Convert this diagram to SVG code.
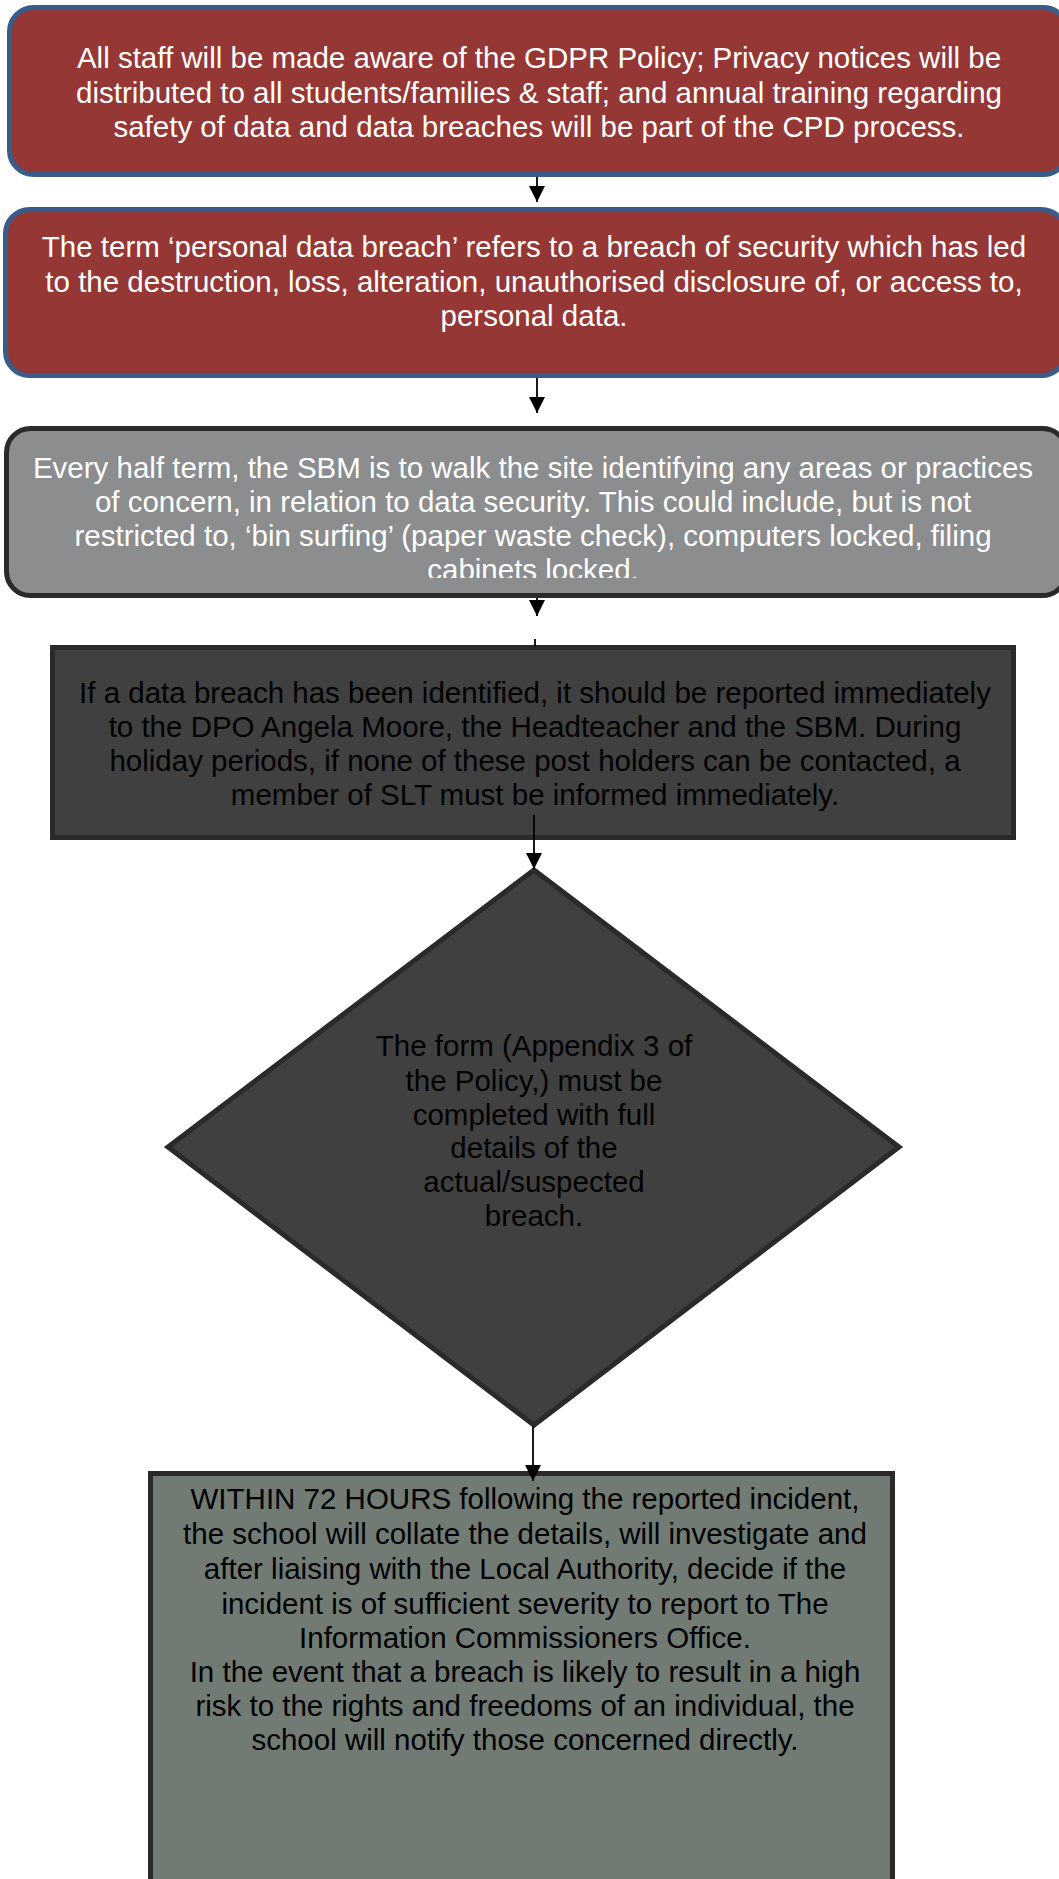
<svg xmlns="http://www.w3.org/2000/svg" width="1059" height="1879" viewBox="0 0 1059 1879">
<style>
text { font-family: "Liberation Sans", Arial, sans-serif; font-size: 29.5px; text-anchor: middle; }
.w { fill: #ffffff; }
.k { fill: #000000; }
.red { fill: #953735; stroke: #385d8a; stroke-width: 5; }
.grey { fill: #8b8d8e; stroke: #2a2a2a; stroke-width: 5; }
.dark { fill: #404040; stroke: #2a2a2a; stroke-width: 5; }
.sage { fill: #717b74; stroke: #2a2a2a; stroke-width: 5; }
.conn { stroke: #000000; stroke-width: 1.8; fill: none; }
</style>
<defs>
<marker id="arr" viewBox="0 0 16 16" refX="16" refY="8" markerWidth="16" markerHeight="16" markerUnits="userSpaceOnUse" orient="auto">
<path d="M0,0 L16,8 L0,16 Z" fill="#000000"/>
</marker>
<clipPath id="c3"><rect x="0" y="430" width="1059" height="148"/></clipPath>
</defs>
<rect width="1059" height="1879" fill="#ffffff"/>

<g id="node1">
<rect class="red" x="9.5" y="7.5" width="1058" height="167" rx="24"/>
<text class="w" x="539" y="68">All staff will be made aware of the GDPR Policy; Privacy notices will be</text>
<text class="w" x="539" y="103">distributed to all students/families &amp; staff; and annual training regarding</text>
<text class="w" x="539" y="137">safety of data and data breaches will be part of the CPD process.</text>
</g>

<g id="node2">
<rect class="red" x="5.5" y="209.5" width="1060" height="166" rx="24"/>
<text class="w" x="534" y="257">The term ‘personal data breach’ refers to a breach of security which has led</text>
<text class="w" x="534" y="292">to the destruction, loss, alteration, unauthorised disclosure of, or access to,</text>
<text class="w" x="534" y="326">personal data.</text>
</g>

<g id="node3">
<rect class="grey" x="6.5" y="428.5" width="1060" height="167" rx="24"/>
<g clip-path="url(#c3)">
<text class="w" x="533" y="478">Every half term, the SBM is to walk the site identifying any areas or practices</text>
<text class="w" x="533" y="512">of concern, in relation to data security. This could include, but is not</text>
<text class="w" x="533" y="546">restricted to, ‘bin surfing’ (paper waste check), computers locked, filing</text>
<text class="w" x="533" y="580">cabinets locked.</text>
</g>
</g>

<g id="node4">
<rect class="dark" x="52.5" y="647.5" width="961" height="190"/>
<text class="k" x="535" y="703">If a data breach has been identified, it should be reported immediately</text>
<text class="k" x="535" y="737">to the DPO Angela Moore, the Headteacher and the SBM. During</text>
<text class="k" x="535" y="771">holiday periods, if none of these post holders can be contacted, a</text>
<text class="k" x="535" y="805">member of SLT must be informed immediately.</text>
</g>

<g id="node5">
<polygon class="dark" points="534,870 899,1147 534,1425 168,1147"/>
<text class="k" x="534" y="1056">The form (Appendix 3 of</text>
<text class="k" x="534" y="1091">the Policy,) must be</text>
<text class="k" x="534" y="1125">completed with full</text>
<text class="k" x="534" y="1158">details of the</text>
<text class="k" x="534" y="1192">actual/suspected</text>
<text class="k" x="534" y="1226">breach.</text>
</g>

<g id="node6">
<rect class="sage" x="150.5" y="1473.5" width="742" height="430"/>
<text class="k" x="525" y="1509">WITHIN 72 HOURS following the reported incident,</text>
<text class="k" x="525" y="1544">the school will collate the details, will investigate and</text>
<text class="k" x="525" y="1579">after liaising with the Local Authority, decide if the</text>
<text class="k" x="525" y="1614">incident is of sufficient severity to report to The</text>
<text class="k" x="525" y="1648">Information Commissioners Office.</text>
<text class="k" x="525" y="1682">In the event that a breach is likely to result in a high</text>
<text class="k" x="525" y="1716">risk to the rights and freedoms of an individual, the</text>
<text class="k" x="525" y="1750">school will notify those concerned directly.</text>
</g>

<g id="connectors">
<line class="conn" x1="537" y1="177" x2="537" y2="202" marker-end="url(#arr)"/>
<line class="conn" x1="537" y1="378" x2="537" y2="413" marker-end="url(#arr)"/>
<line class="conn" x1="537" y1="598" x2="537" y2="616" marker-end="url(#arr)"/>
<line class="conn" x1="535" y1="639" x2="535" y2="646"/>
<line class="conn" x1="534" y1="815" x2="534" y2="869" marker-end="url(#arr)"/>
<line class="conn" x1="533" y1="1426" x2="533" y2="1481" marker-end="url(#arr)"/>
</g>
</svg>
